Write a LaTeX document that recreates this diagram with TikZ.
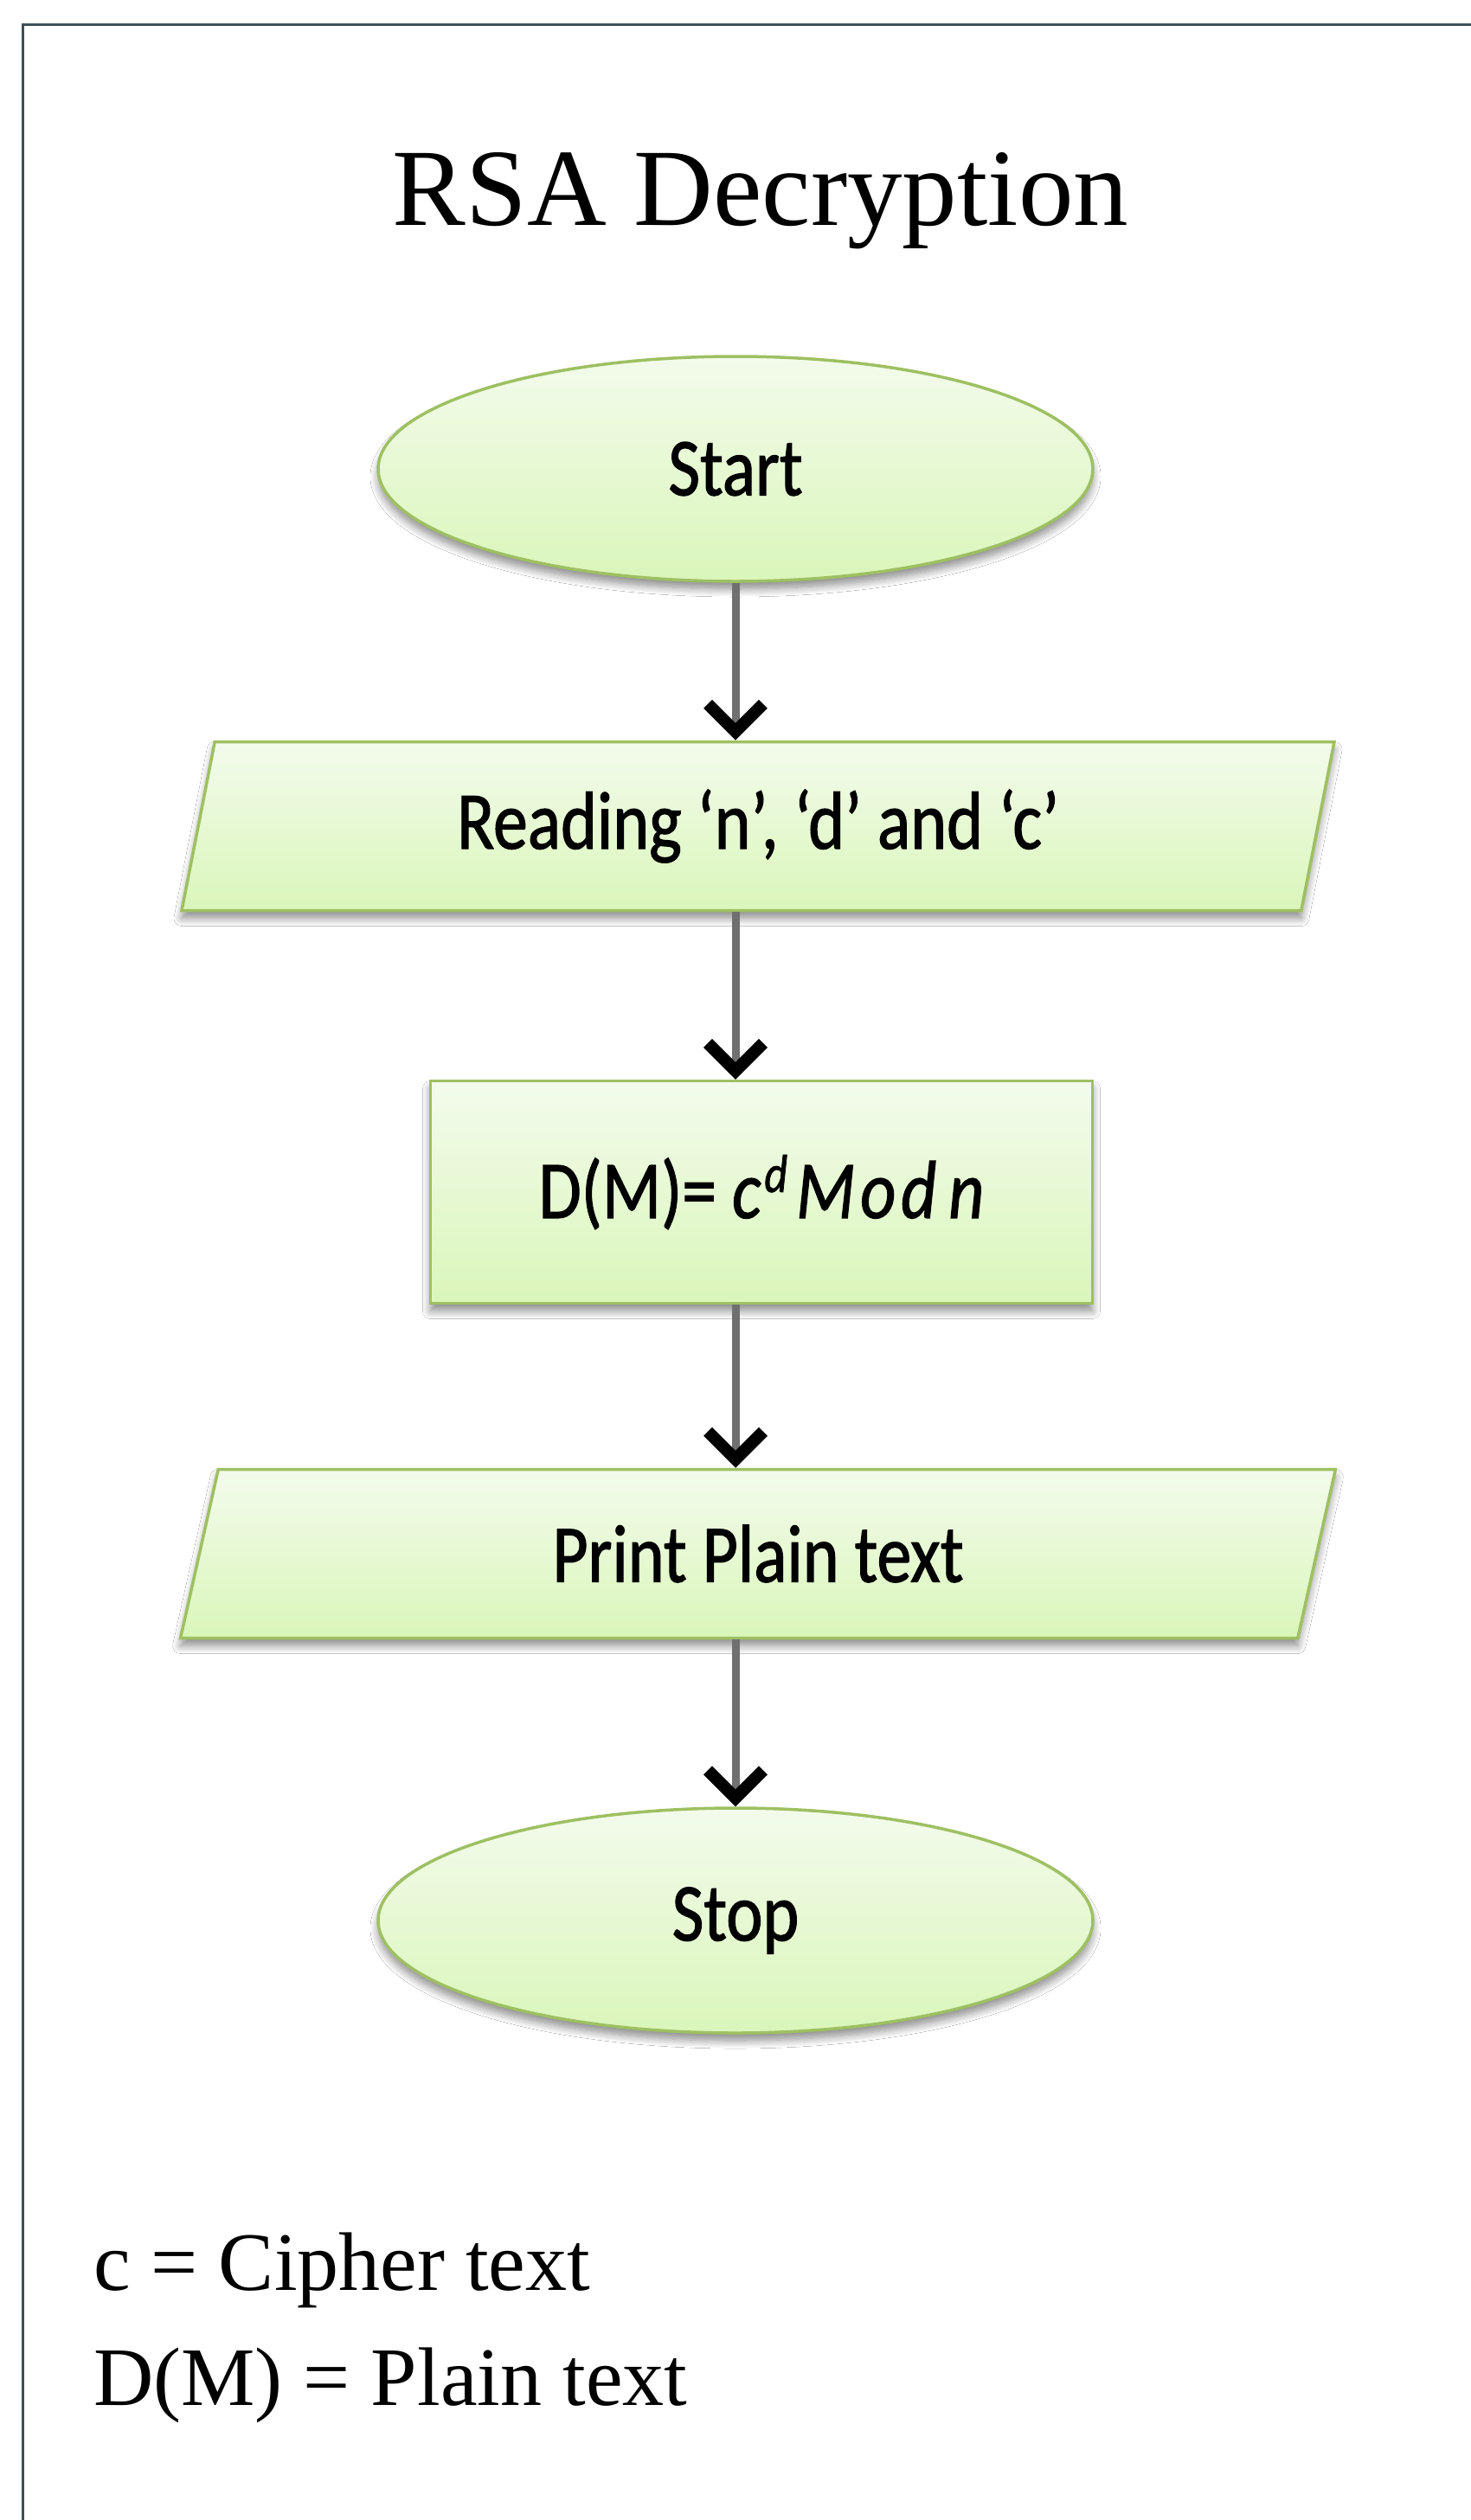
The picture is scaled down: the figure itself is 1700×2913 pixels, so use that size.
\documentclass[tikz,border=0pt]{standalone}
\usepackage{fontspec}
\setmainfont{Liberation Serif}
\newfontfamily\nodefont[FakeStretch=0.84,FakeBold=1.2]{Carlito}
\usetikzlibrary{shapes.geometric,shadows.blur,arrows.meta}
\definecolor{gborder}{HTML}{9EC062}
\definecolor{gtop}{HTML}{F3FBEC}
\definecolor{gbot}{HTML}{DAF6BA}
\definecolor{framecol}{HTML}{3E5058}
\definecolor{conncol}{HTML}{707070}
\newcommand\nodesize{\nodefont\fontsize{95}{105}\selectfont}
\begin{document}
\begin{tikzpicture}[x=1pt,y=-1pt,
  flow/.style={draw=gborder, line width=3.5pt, top color=gtop, bottom color=gbot,
    blur shadow={shadow xshift=0pt, shadow yshift=-9pt, shadow blur radius=9pt,
      shadow blur steps=10, shadow opacity=45},
    font=\nodesize, inner sep=0pt},
  term/.style={flow, ellipse, minimum width=826pt, minimum height=260pt},
  io/.style={flow, trapezium, trapezium left angle=76, trapezium right angle=104,
    trapezium stretches=true, minimum width=1344pt, minimum height=195pt},
  proc/.style={flow, rectangle, minimum width=765pt, minimum height=257pt},
  conn/.style={draw=conncol, line width=9pt,
    -{Straight Barb[length=32pt,width=64pt,line width=14pt,color=black]}},
  legend/.style={anchor=base west, inner sep=0pt, font=\fontsize{96}{110}\selectfont}
]
\useasboundingbox (0,0) rectangle (1700,2913);
\fill[white] (0,0) rectangle (1700,2913);
\draw[framecol, line width=3pt] (26,2913) -- (26,28) -- (1700,28);

\node[anchor=base, inner sep=0pt, font=\fontsize{127}{150}\selectfont] (title) at (879,260) {RSA Decryption};

\node[term] (start) at (850,542) {Start};
\node[io] (read) at (876,955) {Reading ‘n’, ‘d’ and ‘c’};
\node[proc] (dec) at (880,1378) {D(M)= \textit{c}\kern4pt\raisebox{30pt}{\fontsize{62}{62}\selectfont\itshape d}\kern10pt\textit{M\kern6pt o\kern6pt d\kern14pt n}};
\node[io] (print) at (876,1796) {Print Plain text};
\node[term] (stop) at (850,2220) {Stop};

\draw[conn] (start.south) -- (start.south |- read.north);
\draw[conn] (start.south |- read.south) -- (start.south |- dec.north);
\draw[conn] (start.south |- dec.south) -- (start.south |- print.north);
\draw[conn] (start.south |- print.south) -- (stop.north);

\node[legend] (l1) at (108,2647) {c = Cipher text};
\node[legend] (l2) at (108,2780) {D(M) = Plain text};
\end{tikzpicture}
\end{document}
